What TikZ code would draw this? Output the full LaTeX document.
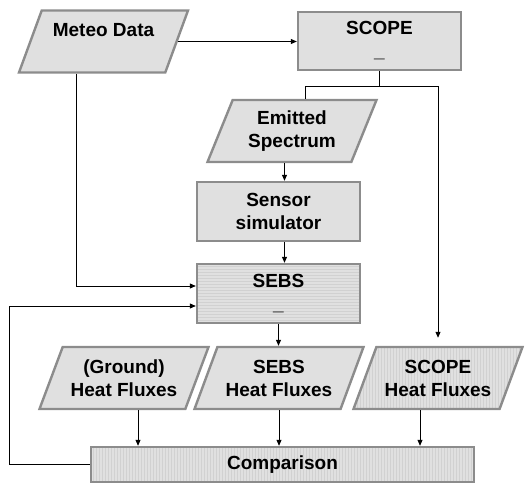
\documentclass[tikz,border=0pt]{standalone}
\usepackage{fontspec}
\setmainfont{Liberation Sans}
\usetikzlibrary{arrows.meta, positioning, shapes.geometric, patterns}
\definecolor{boxEdge}{gray}{0.55}
\definecolor{boxFill}{gray}{0.88}
\definecolor{hatchGray}{gray}{0.82}

\begin{document}
\begin{tikzpicture}[x=1pt, y=1pt, >={Triangle[length=6pt,width=5pt]},
    every node/.style={font=\fontsize{19}{23}\selectfont\bfseries, align=center},
    procbox/.style={rectangle, draw=boxEdge, line width=2.4pt, fill=boxFill, minimum width=163pt},
    databox/.style={trapezium, trapezium left angle=62, trapezium right angle=118,
        trapezium stretches body, draw=boxEdge, line width=2.4pt, fill=boxFill,
        minimum width=169pt, minimum height=62pt, inner xsep=0pt},
    hlines/.style={preaction={fill=boxFill}, pattern=horizontal lines, pattern color=hatchGray},
    vlines/.style={preaction={fill=boxFill}, pattern=vertical lines, pattern color=hatchGray},
    link/.style={line width=0.8pt}]
    \useasboundingbox (0,0) rectangle (532,483);

    % boxes
    \node[databox] (meteo) at (103.5,441.5) {Meteo Data\\~};
    \node[procbox, minimum height=58pt] (scope) at (379.5,442) {SCOPE\\\_};
    \node[databox] (emitted) at (292,352) {Emitted\\Spectrum};
    \node[procbox, minimum height=59pt] (sensor) at (278.5,271.5) {Sensor\\simulator};
    \node[procbox, hlines, minimum height=59pt] (sebs) at (278.5,189.5) {SEBS\\\_};
    \node[databox] (ground) at (124,105) {(Ground)\\Heat Fluxes};
    \node[databox] (sebshf) at (279,105) {SEBS\\Heat Fluxes};
    \node[databox, vlines] (scopehf) at (438,105) {SCOPE\\Heat Fluxes};
    \node[procbox, vlines, minimum width=383pt, minimum height=35pt] (comp) at (282.5,18.5) {Comparison};

    \coordinate (split) at (379.5,397); % below SCOPE
    \coordinate (loop) at (9,177); % feedback corner

    % links
    \draw[link, ->] (meteo.east) -- (meteo.east -| scope.west);
    \draw[link] (scope.south) -- (split);
    \draw[link] (emitted.top side) |- (split);
    \draw[link, ->, shorten >=8pt] (split) -| (scopehf.north);
    \draw[link, ->] ([xshift=6pt]sensor.north |- emitted.bottom side) -- ([xshift=6pt]sensor.north);
    \draw[link, ->] ([xshift=6pt]sensor.south) -- ([xshift=6pt]sebs.north);
    \draw[link, ->] (sebs.south) -- (sebs.south |- sebshf.north);
    \draw[link, ->] ([xshift=-15pt]meteo.bottom side) |- ([yshift=7.5pt]sebs.west);
    \draw[link, ->] (comp.west) -| (loop) -- (loop -| sebs.west);

    \draw[link, ->] ([xshift=14pt]ground.south) -- ([xshift=14pt]ground.south |- comp.north);
    \draw[link, ->] (sebshf.south) -- (sebshf.south |- comp.north);
    \draw[link, ->] ([xshift=-18pt]scopehf.south) -- ([xshift=-18pt]scopehf.south |- comp.north);
\end{tikzpicture}
\end{document}
